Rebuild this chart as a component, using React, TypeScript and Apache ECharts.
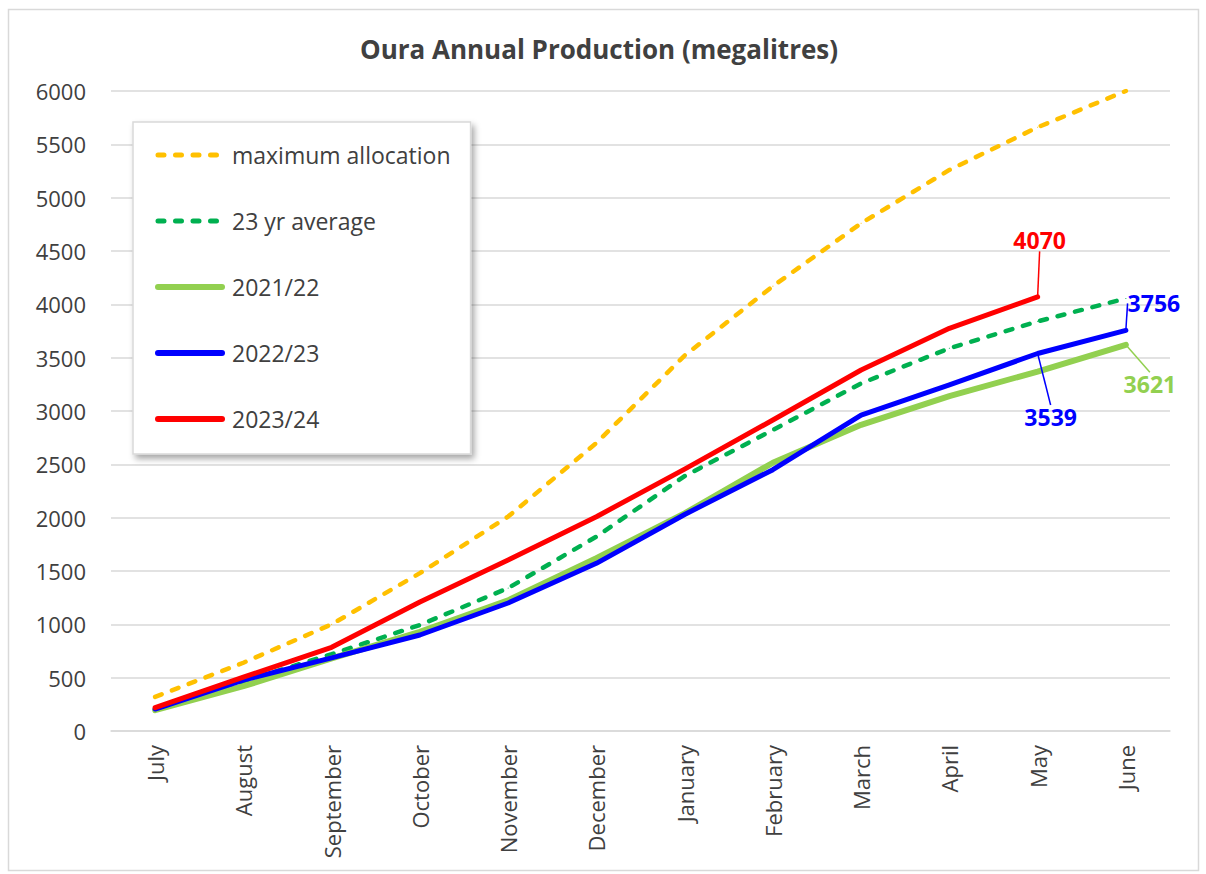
import React, { useEffect, useRef } from "react";
import * as echarts from "echarts";

const months = ["July", "August", "September", "October", "November", "December", "January", "February", "March", "April", "May", "June"];
const maxAllocation = [320, 640, 1000, 1480, 2010, 2700, 3520, 4170, 4760, 5260, 5660, 6000];
const avg23 = [200, 465, 720, 994, 1340, 1822, 2390, 2822, 3259, 3588, 3840, 4055];
const y2122 = [195, 420, 680, 930, 1225, 1620, 2040, 2515, 2870, 3140, 3370, 3621];
const y2223 = [206, 478, 685, 900, 1200, 1572, 2030, 2450, 2962, 3244, 3539, 3756];
const y2324 = [219, 505, 785, 1210, 1603, 2009, 2455, 2916, 3384, 3775, 4070];

const seriesNames = ["maximum allocation", "23 yr average", "2021/22", "2022/23", "2023/24"];
const seriesColors = ["#FFC000", "#00B050", "#92D050", "#0000FF", "#FF0000"];
const seriesDashed = [true, true, false, false, false];
const yTicks = { min: 0, max: 6000, interval: 500 };

// indices of points whose values are labelled
const labelled2122 = [11];
const labelled2223 = [10, 11];
const labelled2324 = [10];

const FONT = "'Open Sans', sans-serif";
const TXT = "#404040";

function withLabels(values: number[], idx: number[], color: string, pos: string[]) {
  return values.map((v, i) => {
    const k = idx.indexOf(i);
    if (k < 0) return v;
    return {
      value: v,
      label: {
        show: true,
        position: pos[k],
        color,
        fontSize: 23,
        fontWeight: "bold",
        fontFamily: FONT,
      },
    };
  });
}

export default function App() {
  const ref = useRef<HTMLDivElement>(null);
  useEffect(() => {
    if (!ref.current) return;
    const chart = echarts.init(ref.current, undefined, { renderer: "svg" });
    const lineSeries = (name: string, data: any[], color: string, width: number, dashed: boolean, z: number, extra: any = {}) => ({
      name,
      type: "line",
      data,
      z,
      symbol: "circle",
      symbolSize: 1,
      showSymbol: true,
      itemStyle: { color },
      lineStyle: dashed
        ? { color, width, type: [7, 11], cap: "round" }
        : { color, width, cap: "round", join: "round" },
      emphasis: { disabled: true },
      ...extra,
    });
    chart.setOption({
      animation: false,
      backgroundColor: "#ffffff",
      title: {
        text: "Oura Annual Production (megalitres)",
        left: 599,
        textAlign: "center",
        top: 36,
        padding: 0,
        textStyle: { fontFamily: FONT, fontSize: 26, fontWeight: "bold", color: TXT },
      },
      graphic: [
        {
          type: "rect",
          shape: { x: 8.5, y: 9.5, width: 1190, height: 861 },
          style: { fill: "none", stroke: "#D9D9D9", lineWidth: 1.5 },
          silent: true,
          z: -10,
        },
      ],
      grid: { left: 111, right: 36, top: 91, bottom: 143, containLabel: false },
      legend: {
        orient: "vertical",
        left: 133,
        top: 122,
        data: seriesNames.map((n, i) => ({
          name: n,
          itemStyle: { opacity: 0 },
          lineStyle: seriesDashed[i]
            ? { color: seriesColors[i], width: 5, type: [6, 11.5], cap: "round" }
            : { color: seriesColors[i], width: 6, type: "solid", cap: "round" },
        })),
        itemWidth: 64,
        itemHeight: 14,
        itemGap: 36,
        padding: [18, 20, 20, 22],
        backgroundColor: "#ffffff",
        borderColor: "#D9D9D9",
        borderWidth: 1.5,
        shadowBlur: 6,
        shadowOffsetX: 3,
        shadowOffsetY: 4,
        shadowColor: "rgba(0,0,0,0.35)",
        textStyle: { fontFamily: FONT, fontSize: 23, color: TXT, lineHeight: 30, padding: [0, 0, 0, 5] },
      },
      xAxis: {
        type: "category",
        data: months,
        boundaryGap: true,
        axisLine: { show: true, lineStyle: { color: "#D9D9D9", width: 1.5 } },
        axisTick: { show: false },
        axisLabel: { rotate: 90, interval: 0, margin: 14, fontFamily: FONT, fontSize: 22, color: TXT },
        splitLine: { show: false },
      },
      yAxis: {
        type: "value",
        min: yTicks.min,
        max: yTicks.max,
        interval: yTicks.interval,
        axisLine: { show: false },
        axisTick: { show: false },
        axisLabel: { margin: 25, fontFamily: FONT, fontSize: 22, color: TXT, formatter: (v: number) => String(v) },
        splitLine: { lineStyle: { color: "#D9D9D9", width: 1.5 } },
      },
      series: [
        lineSeries(seriesNames[0], maxAllocation, seriesColors[0], 4.5, true, 2),
        lineSeries(seriesNames[1], avg23, seriesColors[1], 4.5, true, 3),
        lineSeries(seriesNames[2], withLabels(y2122, labelled2122, seriesColors[2], ["bottom"]), seriesColors[2], 6, false, 4, {
          labelLine: { show: true, lineStyle: { color: seriesColors[2], width: 1.5 } },
          labelLayout: () => ({ dx: 24, dy: 22 }),
        }),
        lineSeries(seriesNames[3], withLabels(y2223, labelled2223, seriesColors[3], ["bottom", "top"]), seriesColors[3], 5, false, 5, {
          labelLine: { show: true, lineStyle: { color: seriesColors[3], width: 1.5 } },
          labelLayout: (p: any) => (p.dataIndex === 10 ? { dx: 13, dy: 46 } : { dx: 28, dy: -10 }),
        }),
        lineSeries(seriesNames[4], withLabels(y2324, labelled2324, seriesColors[4], ["top"]), seriesColors[4], 5, false, 6, {
          labelLine: { show: true, lineStyle: { color: seriesColors[4], width: 1.5 } },
          labelLayout: () => ({ dx: 2, dy: -40 }),
        }),
      ],
    });
    return () => chart.dispose();
  }, []);
  return (
    <div
      ref={ref}
      style={{ position: "fixed", left: 0, top: 0, width: 1206, height: 874, background: "#fff" }}
    />
  );
}
